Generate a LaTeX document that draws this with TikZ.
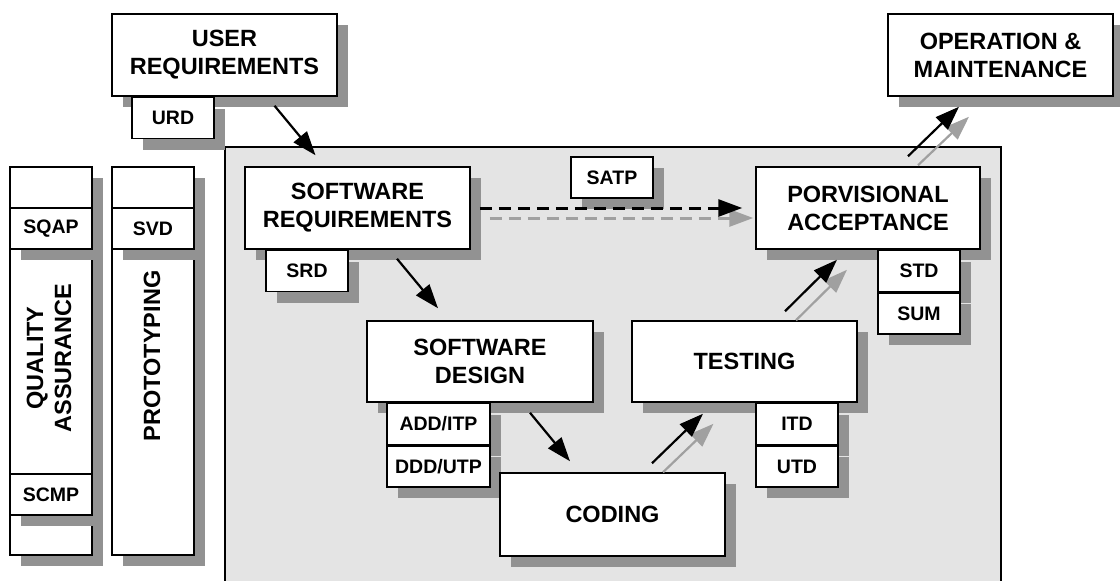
\documentclass[tikz,border=0pt]{standalone}
\usepackage{fontspec}
\setmainfont{Liberation Sans}
\usepackage{xcolor}
\usepackage{tikz}
\usetikzlibrary{arrows.meta,positioning,shadows,calc}

\definecolor{shadegray}{HTML}{929292}
\definecolor{panelgray}{HTML}{E4E4E4}
\definecolor{ghostgray}{HTML}{A0A0A0}

\begin{document}
\begin{tikzpicture}[x=1pt, y=-1pt,
  stage/.style={draw, line width=1.5pt, fill=white, inner sep=0pt, align=center,
    minimum width=225pt, minimum height=82pt,
    font=\fontsize{23.5}{28}\selectfont\bfseries,
    drop shadow={shadow xshift=10.5pt, shadow yshift=-11pt, fill=shadegray, opacity=1}},
  doc/.style={stage, minimum width=82pt, minimum height=41pt,
    font=\fontsize{19.5}{23}\selectfont\bfseries},
  column/.style={stage, minimum width=82pt, minimum height=388pt},
  flow/.style={-{Triangle[length=24pt,width=17pt]}, line width=2.2pt},
  ghost/.style={flow, ghostgray},
  plan/.style={flow, line width=3pt, dash pattern=on 12pt off 7pt}]

\useasboundingbox (0,0) rectangle (1120,581);

% Development panel (open at the bottom)
\fill[panelgray] (225,147) rectangle (1001,600);
\draw[line width=1.5pt] (225,600) -- (225,147) -- (1001,147) -- (1001,600);

% Side activities
\node[column] (qac) at (51,361) {};
\node[doc, anchor=north] (sqap) at ($(qac.north)+(0,41)$) {SQAP};
\node[doc, anchor=south] (scmp) at ($(qac.south)+(0,-40)$) {SCMP};
\node[font=\fontsize{23.5}{28}\selectfont\bfseries, rotate=90, align=center] (qatxt) at (49,358) {QUALITY\\ASSURANCE};

\node[column] (pro) at (153,361) {};
\node[doc, anchor=north] (svd) at ($(pro.north)+(0,41)$) {SVD};
\node[font=\fontsize{23.5}{28}\selectfont\bfseries, rotate=90] (protxt) at (152,356) {PROTOTYPING};

% Phases
\node[stage] (usr) at (224.5,55) {USER\\REQUIREMENTS};
\node[doc, anchor=north west] (urd) at ($(usr.south west)+(20,0)$) {URD};

\node[stage] (swr) at (357.5,208) {SOFTWARE\\REQUIREMENTS};
\node[doc, anchor=north west] (srd) at ($(swr.south west)+(21,0)$) {SRD};

\node[doc] (satp) at (612,177.5) {SATP};

\node[stage, minimum width=226pt, minimum height=81pt] (swd) at (480,361.5) {SOFTWARE\\DESIGN};
\node[doc, anchor=north west, minimum width=103pt] (add) at ($(swd.south west)+(20,0)$) {ADD/ITP};
\node[doc, anchor=north, minimum width=103pt] (ddd) at (add.south) {DDD/UTP};

\node[stage, minimum height=83pt] (cod) at (612.5,514.5) {CODING};

\node[stage, minimum height=81pt] (tst) at (744.5,361.5) {TESTING};
\node[doc, anchor=north west] (itd) at ($(tst.south west)+(124,0)$) {ITD};
\node[doc, anchor=north] (utd) at (itd.south) {UTD};

\node[stage, minimum width=224pt] (pac) at (868,208) {PORVISIONAL\\ACCEPTANCE};
\node[doc, anchor=north west] (std) at ($(pac.south west)+(122,0)$) {STD};
\node[doc, anchor=north] (sum) at (std.south) {SUM};

\node[stage] (opm) at (1000.5,55) {OPERATION \&\\MAINTENANCE};

% Flow between phases
\draw[flow] ($(usr.south)+(50,9)$) -- ($(swr.north)+(-42,-11)$);
\draw[flow] ($(swr.south)+(39.5,9)$) -- ($(swd.north)+(-42,-12)$);
\draw[flow] ($(swd.south)+(50,10)$) -- ($(cod.north)+(-42.5,-11)$);

\draw[ghost] ($(cod.north)+(50.5,0)$) -- ($(tst.south)+(-31,21)$);
\draw[flow] ($(cod.north)+(39.5,-9)$) -- ($(tst.south)+(-41.5,11)$);

\draw[ghost] ($(tst.north)+(51.5,0)$) -- ($(pac.south)+(-21,20)$);
\draw[flow] ($(tst.north)+(40.5,-9)$) -- ($(pac.south)+(-31,10)$);

\draw[ghost] ($(pac.north)+(50,-1)$) -- ($(opm.south)+(-31.5,20)$);
\draw[flow] ($(pac.north)+(40,-10)$) -- ($(opm.south)+(-41.5,10)$);

% Acceptance test plan
\draw[plan, ghostgray] ($(swr.east)+(19,10)$) -- ($(pac.west)+(-2,10)$);
\draw[plan] ($(swr.east)+(9,0)$) -- ($(pac.west)+(-13,0)$);

\end{tikzpicture}
\end{document}
